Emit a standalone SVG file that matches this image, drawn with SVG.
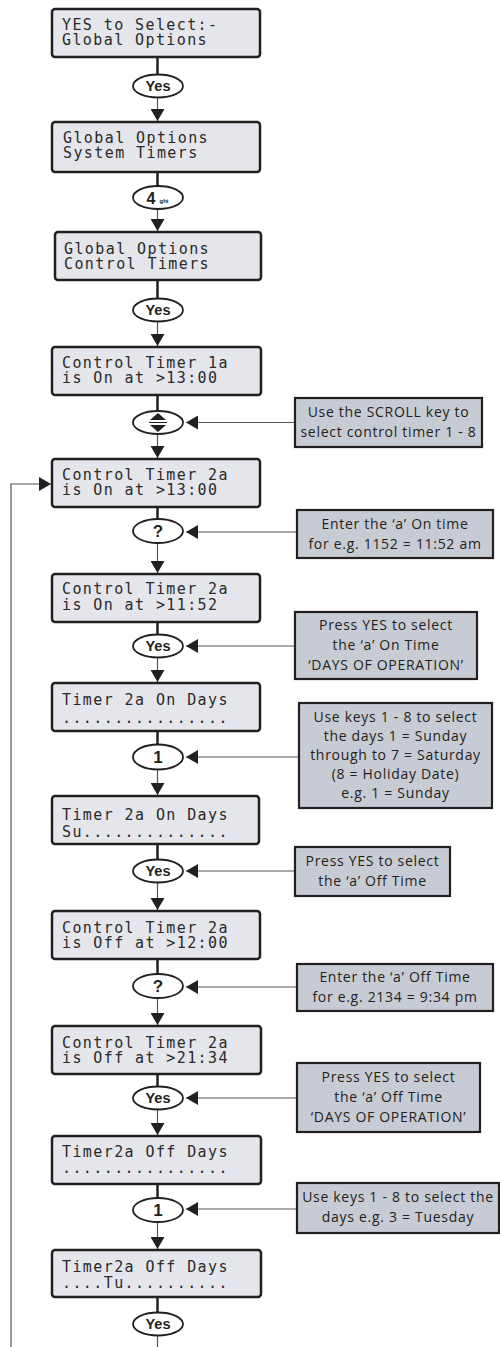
<svg xmlns="http://www.w3.org/2000/svg" width="500" height="1347" viewBox="0 0 500 1347">
<style>
.lcd{fill:#e4e6eb;stroke:#231f20;stroke-width:2.5}
.lt{font-family:"DejaVu Sans Mono",monospace;font-size:15px;letter-spacing:1.4px;fill:#2a2a2a}
.key{fill:#fff;stroke:#231f20;stroke-width:1.8}
.kt{font-family:"Liberation Sans",Arial,sans-serif;font-weight:bold;font-size:14.5px;text-anchor:middle;fill:#231f20}
.big{font-size:17px}
.co{fill:#c7cbd3;stroke:#231f20;stroke-width:2.2}
.ct{font-family:"Open Sans",sans-serif;font-size:14px;letter-spacing:0.7px;text-anchor:middle;fill:#231f20}
.dk{stroke:#231f20;stroke-width:2.5;fill:none}
.lg{stroke:#555;stroke-width:1.2;fill:none}
</style>
<defs>
<marker id="ah" viewBox="0 0 12 14" refX="12" refY="7" markerWidth="12" markerHeight="14" markerUnits="userSpaceOnUse" orient="auto">
<path d="M0,0 L12,7 L0,14 z" fill="#231f20"/>
</marker>
</defs>

<g id="connectors">
<path class="dk" d="M157.5,57 V74.5"/>
<path class="lg" d="M157.5,97.5 V121" marker-end="url(#ah)"/>
<path class="dk" d="M157.5,172 V186"/>
<path class="lg" d="M157.5,209 V231" marker-end="url(#ah)"/>
<path class="dk" d="M157.5,280 V298.5"/>
<path class="lg" d="M157.5,321.5 V346" marker-end="url(#ah)"/>
<path class="dk" d="M157.5,395 V411"/>
<path class="lg" d="M157.5,434 V458" marker-end="url(#ah)"/>
<path class="dk" d="M157.5,507 V519"/>
<path class="lg" d="M157.5,543 V573" marker-end="url(#ah)"/>
<path class="dk" d="M157.5,622 V634.5"/>
<path class="lg" d="M157.5,657.5 V682" marker-end="url(#ah)"/>
<path class="dk" d="M157.5,731 V745"/>
<path class="lg" d="M157.5,769 V795" marker-end="url(#ah)"/>
<path class="dk" d="M157.5,844 V859.5"/>
<path class="lg" d="M157.5,882.5 V910" marker-end="url(#ah)"/>
<path class="dk" d="M157.5,959 V974"/>
<path class="lg" d="M157.5,998 V1025" marker-end="url(#ah)"/>
<path class="dk" d="M157.5,1074 V1086.5"/>
<path class="lg" d="M157.5,1109.5 V1135" marker-end="url(#ah)"/>
<path class="dk" d="M157.5,1184 V1198"/>
<path class="lg" d="M157.5,1222 V1249" marker-end="url(#ah)"/>
<path class="dk" d="M157.5,1297 V1312.5"/>
<path class="lg" d="M157.5,1335.5 V1347"/>
<path class="lg" d="M11,1347 V484 H51" marker-end="url(#ah)"/>
<path class="lg" d="M295,422.5 H186" marker-end="url(#ah)"/>
<path class="lg" d="M297,532 H186" marker-end="url(#ah)"/>
<path class="lg" d="M295,646 H186" marker-end="url(#ah)"/>
<path class="lg" d="M299,757 H186" marker-end="url(#ah)"/>
<path class="lg" d="M295,871 H186" marker-end="url(#ah)"/>
<path class="lg" d="M297,987 H186" marker-end="url(#ah)"/>
<path class="lg" d="M297,1098 H186" marker-end="url(#ah)"/>
<path class="lg" d="M297,1209 H186" marker-end="url(#ah)"/>
</g>

<g id="lcd1"><rect class="lcd" x="52" y="9" width="208" height="48" rx="3"/><text class="lt" x="62" y="29.5">YES to Select:-</text><text class="lt" x="62" y="45">Global Options</text></g>
<g id="key1"><ellipse class="key" cx="158" cy="86" rx="25" ry="11.5"/><text class="kt" x="158" y="91">Yes</text></g>
<g id="lcd2"><rect class="lcd" x="52" y="122" width="208" height="50" rx="3"/><text class="lt" x="63" y="142.5">Global Options</text><text class="lt" x="63" y="158">System Timers</text></g>
<g id="key2"><ellipse class="key" cx="158" cy="197.5" rx="25" ry="11.5"/><text class="kt" x="151" y="203.5" style="font-size:16px">4</text><text class="kt" x="164" y="203" style="font-size:6px">ghi</text></g>
<g id="lcd3"><rect class="lcd" x="55" y="232" width="206" height="48" rx="3"/><text class="lt" x="64" y="253.5">Global Options</text><text class="lt" x="64" y="269">Control Timers</text></g>
<g id="key3"><ellipse class="key" cx="158" cy="310" rx="25" ry="11.5"/><text class="kt" x="158" y="315">Yes</text></g>
<g id="lcd4"><rect class="lcd" x="52" y="347" width="209" height="48" rx="3"/><text class="lt" x="62" y="367.5">Control Timer 1a</text><text class="lt" x="62" y="383">is On at &gt;13:00</text></g>
<g id="key4"><ellipse class="key" cx="158" cy="422.5" rx="25" ry="11.5"/><path d="M150,420 L166,420 L158,413 z M150,425 L166,425 L158,432 z" fill="#231f20"/><path d="M149,422.5 H167" stroke="#231f20" stroke-width="1"/></g>
<g id="lcd5"><rect class="lcd" x="52" y="459" width="208" height="48" rx="3"/><text class="lt" x="62" y="479.5">Control Timer 2a</text><text class="lt" x="62" y="495">is On at &gt;13:00</text></g>
<g id="key5"><ellipse class="key" cx="158" cy="531" rx="25" ry="12"/><text class="kt big" x="158" y="537">?</text></g>
<g id="lcd6"><rect class="lcd" x="52" y="574" width="208" height="48" rx="3"/><text class="lt" x="62" y="594">Control Timer 2a</text><text class="lt" x="62" y="609.5">is On at &gt;11:52</text></g>
<g id="key6"><ellipse class="key" cx="158" cy="646" rx="25" ry="11.5"/><text class="kt" x="158" y="651">Yes</text></g>
<g id="lcd7"><rect class="lcd" x="52" y="683" width="208" height="48" rx="3"/><text class="lt" x="62" y="705">Timer 2a On Days</text><text class="lt" x="62" y="723">................</text></g>
<g id="key7"><ellipse class="key" cx="158" cy="757" rx="25" ry="12.5"/><text class="kt big" x="158" y="763">1</text></g>
<g id="lcd8"><rect class="lcd" x="52" y="796" width="207" height="48" rx="3"/><text class="lt" x="62" y="820">Timer 2a On Days</text><text class="lt" x="62" y="837">Su..............</text></g>
<g id="key8"><ellipse class="key" cx="158" cy="871" rx="25" ry="11.5"/><text class="kt" x="158" y="876">Yes</text></g>
<g id="lcd9"><rect class="lcd" x="52" y="911" width="208" height="48" rx="3"/><text class="lt" x="62" y="932.5">Control Timer 2a</text><text class="lt" x="62" y="948">is Off at &gt;12:00</text></g>
<g id="key9"><ellipse class="key" cx="158" cy="986" rx="25" ry="12"/><text class="kt big" x="158" y="992">?</text></g>
<g id="lcd10"><rect class="lcd" x="52" y="1026" width="209" height="48" rx="3"/><text class="lt" x="62" y="1047.5">Control Timer 2a</text><text class="lt" x="62" y="1063">is Off at &gt;21:34</text></g>
<g id="key10"><ellipse class="key" cx="158" cy="1098" rx="25" ry="11.5"/><text class="kt" x="158" y="1103">Yes</text></g>
<g id="lcd11"><rect class="lcd" x="52" y="1136" width="209" height="48" rx="3"/><text class="lt" x="62" y="1157">Timer2a Off Days</text><text class="lt" x="62" y="1173">................</text></g>
<g id="key11"><ellipse class="key" cx="158" cy="1210" rx="25" ry="12"/><text class="kt big" x="158" y="1216">1</text></g>
<g id="lcd12"><rect class="lcd" x="52" y="1250" width="209" height="47" rx="3"/><text class="lt" x="62" y="1272">Timer2a Off Days</text><text class="lt" x="62" y="1288">....Tu..........</text></g>
<g id="key12"><ellipse class="key" cx="158" cy="1324" rx="25" ry="11.5"/><text class="kt" x="158" y="1329">Yes</text></g>

<g id="note1"><rect class="co" x="295" y="398" width="187" height="49"/><text class="ct" x="388.5" y="417">Use the SCROLL key to</text><text class="ct" x="388.5" y="437">select control timer 1 - 8</text></g>
<g id="note2"><rect class="co" x="297" y="510" width="196" height="48"/><text class="ct" x="395" y="529">Enter the ‘a’ On time</text><text class="ct" x="395" y="549">for e.g. 1152 = 11:52 am</text></g>
<g id="note3"><rect class="co" x="295" y="612" width="182" height="67"/><text class="ct" x="386" y="630">Press YES to select</text><text class="ct" x="386" y="650">the ‘a’ On Time</text><text class="ct" x="386" y="670">‘DAYS OF OPERATION’</text></g>
<g id="note4"><rect class="co" x="299" y="703" width="193" height="105"/><text class="ct" x="395.5" y="722">Use keys 1 - 8 to select</text><text class="ct" x="395.5" y="741">the days 1 = Sunday</text><text class="ct" x="395.5" y="760">through to 7 = Saturday</text><text class="ct" x="395.5" y="779">(8 = Holiday Date)</text><text class="ct" x="395.5" y="798">e.g. 1 = Sunday</text></g>
<g id="note5"><rect class="co" x="295" y="847" width="155" height="49"/><text class="ct" x="372.5" y="866">Press YES to select</text><text class="ct" x="372.5" y="886">the ‘a’ Off Time</text></g>
<g id="note6"><rect class="co" x="297" y="964" width="196" height="47"/><text class="ct" x="395" y="982">Enter the ‘a’ Off Time</text><text class="ct" x="395" y="1002">for e.g. 2134 = 9:34 pm</text></g>
<g id="note7"><rect class="co" x="297" y="1063" width="183" height="69"/><text class="ct" x="388.5" y="1082">Press YES to select</text><text class="ct" x="388.5" y="1102">the ‘a’ Off Time</text><text class="ct" x="388.5" y="1122">‘DAYS OF OPERATION’</text></g>
<g id="note8"><rect class="co" x="297" y="1183" width="202" height="50"/><text class="ct" x="398" y="1202">Use keys 1 - 8 to select the</text><text class="ct" x="398" y="1222">days e.g. 3 = Tuesday</text></g>
</svg>
